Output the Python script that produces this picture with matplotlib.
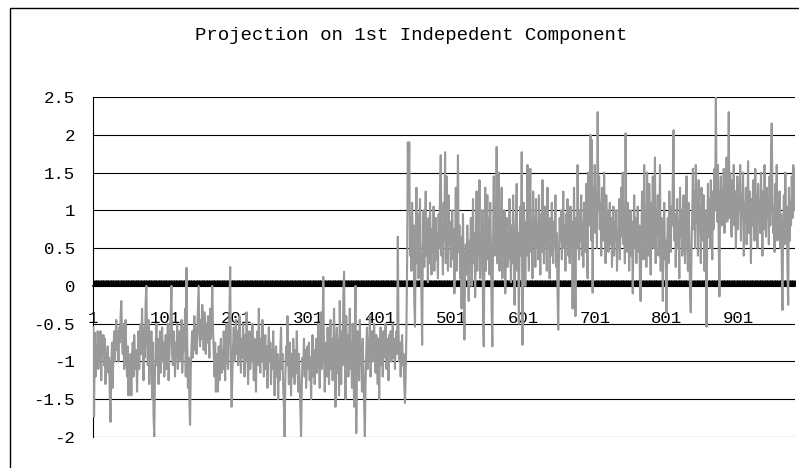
import numpy as np
import matplotlib
matplotlib.use("Agg")
import matplotlib.pyplot as plt
from matplotlib.patches import Rectangle

title = "Projection on 1st Indepedent Component"

# projection values (one per sample)
seg_a = [
    -0.55, -1.73, -0.62, -1.2, -0.8, -0.95, -0.6, -1.1, -0.7, -0.85, -0.6, -1.25, -0.75, -0.9, -0.65, -1.05, -0.7, -1.3, -0.9, -1.0,
    -0.8, -1.15, -0.95, -1.45, -1.8, -1.1, -0.75, -1.35, -0.9, -0.6, -1.0, -0.7, -0.45, -0.85, -0.6, -1.0, -0.55, -0.75, -0.4, -0.2,
    -0.65, -0.9, -0.5, -1.1, -0.7, -0.45, -0.95, -1.2, -0.8, -1.45, -1.05, -1.3, -0.9, -1.45, -1.0, -0.75, -1.2, -0.65, -0.9, -1.1,
    -0.85, -1.4, -0.95, -0.6, -1.1, -0.75, -0.5, -0.9, -0.3, -0.8, -1.25, -0.55, -0.95, -0.2, 0.0, -0.7, -1.05, -0.45, -1.3, -0.85,
    -1.1, -0.6, -1.5, -0.75, -1.7, -2.0, -1.2, -0.8, -0.5, -1.05, -0.7, -1.3, -0.9, -0.6, -1.15, -0.85, -0.55, -1.0, -0.75, -1.2,
    -0.9, -0.65, -1.1, -0.8, -0.5, -1.25, -0.95, -0.7, -0.35, 0.0, -0.9, -1.05, -0.6, -0.85, -1.2, -0.75, -0.95, -0.5, -1.1, -0.8,
    -0.6, -1.0, -0.75, -0.45, -1.15, -0.9, -0.55, -0.85, -0.3, -1.2, 0.24, -0.7, -1.35, -0.95, -1.5, -1.84, -1.1, -0.8, -0.6, -0.95,
    -0.7, -0.4, -0.85, -0.55, -0.9, -0.6, -0.3, 0.0, -0.65, -0.8, -0.45, -0.7, -0.25, -0.55, -0.85, -0.35, -0.6, -0.9, -0.5, -0.75,
    -0.4, -0.65, -0.95, -0.3, -0.7, -0.5, 0.0, -0.55, -0.85, -1.2, -0.75, -1.4, -0.9, -1.05, -1.4, -0.8, -1.25, -1.0, -0.7, -1.15,
    -0.85, -1.1, -0.6, -0.95, -1.25, -0.75, -0.5, -0.9, -1.1, -0.65, -0.35, 0.25, -1.0, -1.6, -1.2, -0.8, -0.55, -1.0, -0.7, -0.45,
    -0.9, -0.6, -1.05, -0.75, -0.4, -0.85, -1.15, -0.7, -0.95, -0.5, -0.8, -1.2, -0.65, -1.0, -0.35, -0.85, -1.3, -0.9, -0.6, -1.1,
    -0.75, -1.0, -0.5, -0.85, -1.25, -0.7, -0.95, -1.4, -0.8, -0.6, -1.05, -0.3, -0.9, -1.15, -0.7, -1.0, -0.45, -0.85, -1.2, -0.95,
    -0.65, -1.1, -0.8, -1.35, -0.9, -0.55, -1.0, -0.75, -1.3, -0.85, -1.1, -0.6, -0.95, -1.45, -1.0, -0.8, -1.2, -0.9, -1.5, -1.05,
    -1.25, -0.85, -0.55, -1.1, -0.9, -1.35, -1.6, -2.0, -1.2, -0.8, -1.05, -0.4, -0.95, -1.3, -0.75, -1.1, -1.45, -0.9, -1.2, -0.7,
    -1.0, -1.3, -0.85, -1.15, -0.6, -1.05, -1.4, -0.9, -1.25, -1.6, -2.0, -1.3, -0.95, -1.1, -0.7, -1.2, -0.85, -1.35, -1.05, -0.8,
    -1.1, -0.75, -1.25, -0.95, -1.5, -1.0, -0.65, -1.2, -0.85, -1.3, -1.05, -0.7, -1.15, -0.9, -0.5, -1.0, -1.35, -0.8, -0.35, -1.1,
    -0.6, 0.12, -0.9, -1.4, -1.05, -0.75, -1.2, -0.55, -0.95, -1.3, -0.8, -0.45, -1.1, -0.7, -1.25, -0.9, -0.3, -1.0, -1.6, -0.85,
    -0.55, -1.15, -0.7, -1.45, -0.2, -0.9, -1.3, -0.6, -1.05, -0.1, 0.19, -0.75, -1.5, -0.4, -1.0, -0.65, -1.2, -0.85, -0.3, -1.1,
    -0.75, -1.35, -0.5, -0.95, -1.6, -0.7, 0.0, -1.95, -1.1, -0.6, -0.9, -1.25, -0.45, -1.05, -0.8, -1.4, -0.7, -1.1, -1.6, -2.0,
    -1.3, -0.85, -0.55, -1.1, -0.7, -0.95, -0.4, -1.2, -0.8, -0.6, -1.0, -0.75, -0.5, -0.9, -1.15, -0.65, -0.85, -1.3, -0.7, -1.5,
    -0.9, -0.55, -1.05, -0.75, -1.2, -0.6, -0.95, -0.8, -0.5, -1.1, -0.7, -0.85, -1.25, -0.65, -0.9, -0.6, -1.0, -0.75, -0.5, -0.95,
    -0.7, -1.1, -0.8, -0.6, -0.9, 0.65, -0.55, -1.0, -0.75, -1.2, -0.85, -0.65, -1.05, -0.9, -1.3, -1.55, -1.2, -0.6, 0.3, 1.9,
]
seg_b = [
    1.2, 1.9, 0.4, 0.9, 0.2, 1.1, 0.5, 0.8, -0.2, -0.54, 0.6, 1.3, 0.3, 0.95, 0.1, 0.7, 1.15, 0.35, -0.1, -0.78,
    0.5, 1.0, 0.25, 0.8, 1.25, 0.4, 0.65, 0.05, 0.9, 0.3, 1.1, 0.55, 0.15, 0.75, 0.45, 1.05, 0.2, 0.6, 0.9, 0.35,
    0.7, 0.1, 0.95, 0.5, 1.3, 1.73, 0.4, 0.8, 0.15, 1.1, 0.6, 1.77, 0.3, 1.45, 0.9, 0.2, 1.2, 0.55, 0.85, 0.25,
    0.6, 1.0, 0.35, 0.75, -0.1, 0.5, 1.3, 0.2, 0.9, 1.73, 0.45, 0.8, 0.1, 0.65, -0.3, 0.4, 0.95, 0.05, -0.71, 0.3,
    0.55, 0.15, 0.8, 0.35, -0.2, 0.6, 0.25, 0.9, 0.0, 0.45, 1.15, 0.3, 0.7, -0.15, 0.5, 1.25, 0.2, 0.85, 0.4, 1.4,
    0.1, 0.65, 0.3, 1.0, -0.4, -0.8, 0.5, 1.3, 0.2, 0.75, 1.2, 0.35, 0.9, 0.15, 1.1, 0.5, -0.3, -0.8, 0.6, 1.45,
    0.4, 1.05, 0.7, 1.84, 0.3, 0.85, 1.5, 0.2, 0.95, 0.55, 1.3, 0.1, 0.75, 0.45, 1.0, -0.1, 0.6, 0.9, 0.25, 0.7,
    0.35, 1.15, 0.5, 0.05, 0.8, 0.3, 1.2, 0.6, -0.25, 0.45, 0.9, 1.35, 0.2, 0.7, -0.5, 0.55, 1.05, 0.4, 1.77, -0.78,
    0.3, 1.1, 0.6, 0.0, 0.85, 0.4, 1.6, 0.7, 0.2, 1.0, 1.55, 0.45, 0.75, 0.1, 1.25, 0.55, 0.9, 0.25, 1.15, 0.5,
    0.8, 0.35, 1.2, 0.6, 0.15, 0.95, 0.45, 1.4, 0.7, 0.3, 1.05, 0.55, 0.85, 0.2, 1.3, 0.5, 0.75, 0.1, 0.9, 0.4,
    1.1, 0.65, 0.3, 0.85, 0.5, 1.2, 0.25, 0.7, -0.1, -0.58, 0.4, 0.9, 0.6, 1.0, 0.35, 0.75, 1.25, 0.5, 0.8, 0.2,
    0.95, 0.55, 1.15, 0.4, 0.7, 0.3, 1.05, 0.6, 0.85, -0.3, 0.45, 1.3, 0.65, -0.4, 0.9, 0.5, 1.6, 0.75, 0.35, 1.0,
    0.6, 1.2, 0.4, 0.85, 0.25, 1.1, 0.7, 0.45, 1.35, 0.55, 0.1, 1.5, 0.8, 1.05, 2.0, 0.6, 1.93, -0.09, 1.3, 0.9,
    1.6, 0.7, 1.2, 0.5, 2.3, 1.0, 1.45, 0.75, 1.1, 0.4, 1.3, 0.85, 0.6, 1.5, 0.95, 0.3, 1.2, 0.7, 1.0, 0.45,
    0.8, 1.1, 0.55, 0.9, 0.25, 0.75, 1.05, 0.4, 0.85, 0.6, 1.0, 0.2, 0.7, 0.5, 1.15, 0.35, 0.9, 1.3, 0.65, 1.5,
    0.55, 0.95, 0.3, 2.02, 0.7, 0.45, 1.1, 0.8, 0.2, 0.6, 1.0, 0.4, 0.85, -0.1, 0.65, 1.2, 0.5, 0.9, 0.3, 0.75,
    1.05, 0.45, 0.8, 0.1, -0.2, 0.6, 1.25, 0.7, 0.35, 1.6, 0.55, 0.95, 0.25, 1.5, 0.7, 0.4, 1.35, 0.8, 0.15, 1.1,
    0.6, 1.45, 0.5, 0.85, 1.7, 0.3, 1.0, 0.65, 1.2, 0.4, 0.75, 1.6, 0.2, 0.9, 0.55, -0.2, 0.7, 1.1, 0.35, 0.6,
    -0.35, 0.5, 0.9, 0.3, 1.25, 0.7, 0.45, 1.05, 0.8, 1.5, 2.06, 0.6, 0.95, 0.25, 0.75, 1.15, 0.5, 0.85, 0.1, 1.3,
    0.65, 1.0, 0.4, 0.8, 1.2, 0.55, 0.3, 0.9, 1.45, 0.7, 0.2, 1.1, 0.6, -0.1, -0.35, 0.45, 0.95, 1.55, 0.75, 1.25,
    0.5, 1.6, 0.85, 1.15, 0.4, 1.4, 0.7, 1.05, 0.3, 1.3, 0.95, 0.6, 1.2, 0.2, 1.0, 0.45, -0.54, 0.8, 1.35, 0.65,
    1.15, 0.5, 1.4, 0.9, 0.35, 1.25, 0.75, 1.55, 1.0, 2.5, 1.3, 0.85, 1.6, 0.6, -0.14, 1.1, 1.45, 0.8, 1.25, 0.95,
    1.55, 0.7, 1.3, 1.0, 1.7, 0.85, 1.2, 2.3, 0.9, 1.5, 1.1, 0.65, 1.4, 0.95, 1.6, 0.8, 1.25, 0.5, 1.05, 1.45,
    0.75, 1.35, 1.0, 1.6, 0.6, 1.2, 0.9, 1.5, 0.4, 1.1, 0.85, 1.3, 0.55, 1.0, 1.65, 0.7, 1.25, 0.95, 0.3, 1.15,
    0.8, 1.4, 1.05, 0.6, 1.55, 0.9, 1.2, 0.5, 1.35, 0.85, 1.1, 0.7, 1.5, 0.95, 0.4, 1.25, 0.75, 1.6, 1.0, 0.65,
    1.3, 0.9, 1.15, 0.55, 1.45, 0.8, 1.75, 2.15, 1.2, 0.7, 1.05, 0.45, 1.35, 0.9, 1.6, 0.6, 1.1, 0.75, 1.25, 0.5,
    0.95, 0.3, -0.32, 0.85, 1.2, 0.55, 1.5, 0.7, 1.05, 0.2, -0.25, 1.3, 0.6, 1.1, 0.8, 1.45, 0.9, 1.6, 1.0, 1.55,
]
values = np.array(seg_a + seg_b)
samples = np.arange(1, len(values) + 1)

x_labels = [1, 101, 201, 301, 401, 501, 601, 701, 801, 901]
y_ticks = [-2, -1.5, -1, -0.5, 0, 0.5, 1, 1.5, 2, 2.5]

W, H = 799, 468
fig = plt.figure(figsize=(W / 100, H / 100), dpi=100)
mono = "Liberation Mono"

# outer chart frame (cut off at right/bottom in the original)
fig.add_artist(Rectangle((10 / W, -0.1), 1.2, 1.1 - 8 / H, transform=fig.transFigure,
                         fill=False, ec="black", lw=1.0))

ax = fig.add_axes([93 / W, 1 - 437 / H, (795 - 93) / W, (437 - 97) / H])
ax.plot(samples, values, color="#999999", lw=1.5, zorder=3)

ax.set_xlim(0.5, len(values) + 0.5)
ax.set_ylim(-2, 2.5)
ax.set_yticks(y_ticks)
ax.set_yticklabels([f"{v:g}" for v in y_ticks], fontfamily=mono, fontsize=12.5)
ax.tick_params(axis="y", length=0, pad=13)
ax.grid(axis="y", color="black", lw=0.8)
ax.set_axisbelow(True)

# category axis crossing at zero, a tick for every sample
ax.spines["bottom"].set_position(("data", 0))
ax.spines["bottom"].set_linewidth(1.2)
ax.spines["bottom"].set_zorder(1)
ax.spines["top"].set_visible(False)
ax.spines["right"].set_visible(False)
ax.spines["left"].set_linewidth(0.8)
ax.set_xticks(x_labels)
ax.set_xticklabels([str(v) for v in x_labels], fontfamily=mono, fontsize=12.5)
ax.set_xticks(samples, minor=True)
ax.tick_params(axis="x", which="both", direction="in", length=4, width=0.7, pad=18)

fig.text(411 / W, 1 - 36 / H, title, ha="center", va="center", fontfamily=mono, fontsize=13.7)

fig.savefig("out.png", dpi=100)
